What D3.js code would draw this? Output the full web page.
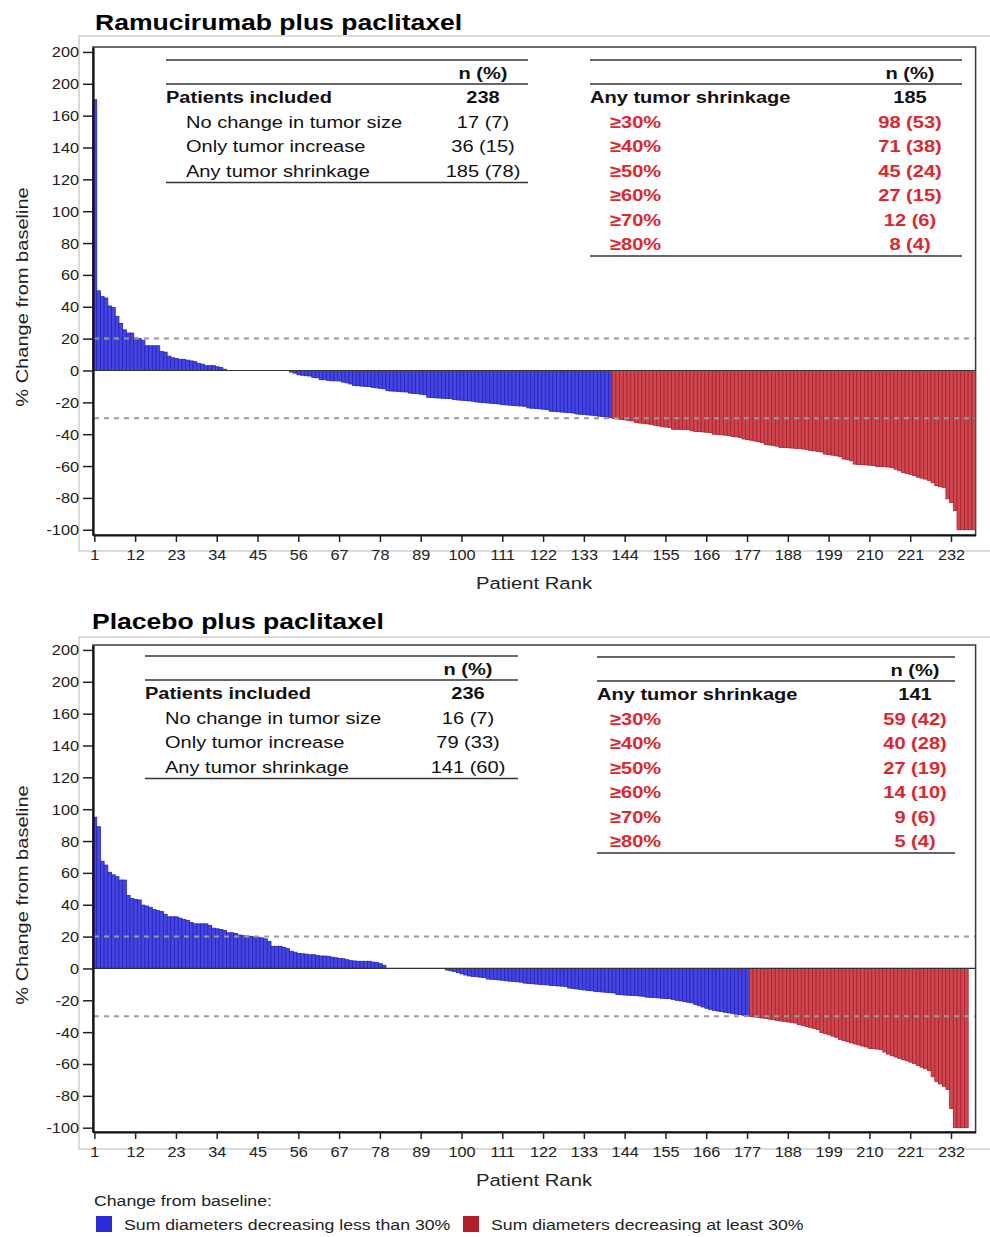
<!DOCTYPE html>
<html>
<head>
<meta charset="utf-8">
<script src="https://d3js.org/d3.v7.min.js"></script>
<style>
  body { margin: 0; background: #fff; }
  svg { font-family: "Liberation Sans", Arial, sans-serif; }
</style>
</head>
<body>
<script>
// % change from baseline, patients ranked
const ramChange = [
  170, 50, 46.5, 45.5, 40.5, 39.5, 34, 29.5, 25.5, 23.5,
  23.5, 20.5, 20, 19, 15.5, 15.5, 15.5, 15.5, 12, 11.5,
  9, 8, 7.5, 7, 7, 6.5, 6, 5.5, 4.5, 4,
  3, 3, 3, 2.3, 1.9, 0.8,
  0, 0, 0, 0, 0, 0, 0, 0, 0, 0, 0, 0, 0, 0, 0, 0, 0,
  -1, -1.7, -2.7, -3, -3.3, -3.5, -4.4, -4.6, -5.8, -5.8,
  -6.3, -6.5, -6.5, -6.6, -7.3, -7.8, -8.5, -9.4, -9.6, -9.8,
  -10, -10, -10.6, -10.9, -11.2, -11.5, -12.7, -12.9, -13, -13.2,
  -13.4, -13.5, -14.2, -14.4, -14.6, -14.9, -15.2, -16.9, -17, -17.2,
  -17.3, -17.5, -17.6, -17.7, -18.3, -18.5, -18.7, -18.9, -19.1, -19.3,
  -19.8, -20, -20.2, -20.4, -20.6, -20.8, -21, -21.5, -21.6, -21.8,
  -22, -22.2, -22.3, -22.5, -23.5, -23.7, -23.9, -24.1, -24.3, -24.6,
  -25.6, -25.7, -25.9, -26.1, -26.3, -26.5, -26.7, -27.3, -27.5, -27.7,
  -27.9, -28.1, -28.4, -28.7, -29, -29.2, -29.5,
  -30.1, -30.4, -30.7, -31, -31.4, -31.7, -32.7, -33, -33.2, -33.5,
  -33.8, -34.4, -34.8, -35.1, -35.5, -35.8, -36.9, -36.9, -37, -37,
  -37.1, -37.9, -38.2, -38.4, -38.6, -38.8, -39, -40, -40.2, -40.4,
  -40.6, -40.8, -41.5, -41.7, -42, -43, -43.4, -43.8, -44.3, -44.8,
  -45.2, -46.5, -46.8, -47.2, -47.5, -48.3, -48.4, -48.5, -48.7, -48.9,
  -49, -49.3, -49.6, -50.2, -50.5, -50.8, -51.2, -52.5, -52.8, -53.2,
  -53.6, -54, -55.6, -56, -56.7, -58.8, -59, -59.1, -59.3, -59.5,
  -59.7, -60.2, -60.3, -60.4, -60.6, -61, -62, -63, -64, -64.6,
  -65.2, -66, -67, -67.6, -68.2, -69, -70.5, -72.3, -73, -73.5,
  -80.6, -83, -88, -100, -100, -100, -100, -100
];

const plaChange = [
  95, 89, 67.3, 64.9, 60.4, 58.8, 57.6, 55.5, 55.5, 45.9,
  43.9, 43.3, 43, 39.8, 39.2, 38.4, 37, 36.3, 35.7, 34,
  32.4, 32.4, 32.4, 31.6, 30.8, 30.2, 28.8, 28, 28, 28,
  28, 27, 25.3, 24.9, 24.5, 23.9, 22.4, 22.4, 22, 21,
  20.6, 20.4, 20.2, 19.8, 19.6, 19.2, 18.6, 16.9, 13.9, 13.9,
  13.9, 13.3, 12.4, 10.8, 10.2, 9.4, 9.2, 9, 8.6, 8.6,
  8.2, 7.8, 7.8, 7.6, 7.1, 6.7, 6.3, 6.1, 5.5, 4.9,
  4.7, 4.5, 4.5, 4.5, 4.5, 4, 3.7, 3, 2,
  0, 0, 0, 0, 0, 0, 0, 0, 0, 0, 0, 0, 0, 0, 0, 0,
  -1, -1.5, -2, -2.7, -3.4, -4.1, -4.7, -5, -5.2, -5.5,
  -5.7, -6.6, -6.8, -7, -7.2, -7.4, -7.8, -8, -8.2, -8.4,
  -8.6, -9.2, -9.4, -9.6, -9.8, -10, -10.2, -10.3, -10.7, -10.8,
  -11, -11.1, -11.3, -12.3, -12.6, -12.9, -13.2, -13.5, -13.8, -14,
  -14.4, -14.6, -14.8, -15, -15.2, -15.4, -16.4, -16.5, -16.7, -16.8,
  -17, -17.1, -17.3, -17.5, -18, -18.2, -18.3, -18.5, -18.7, -18.8,
  -19, -19.5, -20, -20.4, -20.8, -21.2, -21.6, -22.6, -23.4, -24.2,
  -25, -25.7, -26.3, -26.7, -27.1, -27.5, -27.9, -28.3, -28.7, -29,
  -29.4, -29.8,
  -30.2, -30.5, -30.8, -31.1, -31.4, -31.8, -32.2, -32.6, -33, -33.3,
  -33.6, -34, -34.3, -35.3, -35.8, -36.4, -37, -37.6, -38.4, -40.2,
  -40.9, -41.7, -42.5, -43.2, -44.6, -45.3, -46, -46.7, -47.4, -48,
  -48.7, -49.3, -50.2, -50.4, -50.6, -51, -52.5, -53.8, -54.8, -55.6,
  -56.4, -57.2, -58, -58.8, -59.6, -61, -62, -63, -64, -68,
  -71, -72.5, -74, -76, -88, -100, -100, -100, -100
];

const yTicks = [-100, -80, -60, -40, -20, 0, 20, 40, 60, 80, 100, 120, 140, 160, 180, 200];
const yTickLabels = ['-100', '-80', '-60', '-40', '-20', '0', '20', '40', '60', '80', '100', '120', '140', '160', '200', '200'];
const xTicks = [1, 12, 23, 34, 45, 56, 67, 78, 89, 100, 111, 122, 133, 144, 155, 166, 177, 188, 199, 210, 221, 232];
const refLines = [20, -30];

const ramSummaryLabels = ['Patients included', 'No change in tumor size', 'Only tumor increase', 'Any tumor shrinkage'];
const ramSummaryValues = ['238', '17 (7)', '36 (15)', '185 (78)'];
const ramShrinkLabels = ['Any tumor shrinkage', '≥30%', '≥40%', '≥50%', '≥60%', '≥70%', '≥80%'];
const ramShrinkValues = ['185', '98 (53)', '71 (38)', '45 (24)', '27 (15)', '12 (6)', '8 (4)'];

const plaSummaryLabels = ['Patients included', 'No change in tumor size', 'Only tumor increase', 'Any tumor shrinkage'];
const plaSummaryValues = ['236', '16 (7)', '79 (33)', '141 (60)'];
const plaShrinkLabels = ['Any tumor shrinkage', '≥30%', '≥40%', '≥50%', '≥60%', '≥70%', '≥80%'];
const plaShrinkValues = ['141', '59 (42)', '40 (28)', '27 (19)', '14 (10)', '9 (6)', '5 (4)'];

const legendLabels = ['Sum diameters decreasing less than 30%', 'Sum diameters decreasing at least 30%'];

const BLUE = '#4646de', BLUE_EDGE = '#2222c4';
const RED = '#cc4850', RED_EDGE = '#ad1d2a';
const TXT_RED = '#e0262b';
const SX = 1.18; // the source figure is stretched sideways

const W = 990, H = 1237;
const svg = d3.select('body').append('svg').attr('width', W).attr('height', H);

function label(g, x, y, s, o = {}) {
  return g.append('text')
    .attr('transform', `translate(${x},${y}) scale(${SX},1)`)
    .attr('text-anchor', o.anchor || 'start')
    .attr('font-size', o.size || 17)
    .attr('font-weight', o.bold ? 'bold' : 'normal')
    .attr('fill', o.fill || '#111')
    .text(s);
}

const x = d3.scaleBand()
  .domain(d3.range(1, ramChange.length + 1))
  .range([93, 975.6])
  .padding(0);

function table(g, t) {
  const line = yy => g.append('line').attr('x1', t.x0).attr('x2', t.x1)
    .attr('y1', yy).attr('y2', yy).attr('stroke', '#333').attr('stroke-width', 1.5);
  line(t.top);
  label(g, t.col, t.top + 19, 'n (%)', { anchor: 'middle', bold: true });
  line(t.top + 24);
  t.labels.forEach((s, i) => {
    const cy = t.top + 43 + i * 24.5;
    const first = i === 0;
    const fill = (!first && t.red) ? TXT_RED : '#111';
    const bold = first || t.red;
    label(g, first ? t.x0 : t.x0 + t.indent, cy, s, { bold, fill });
    label(g, t.col, cy, t.values[i], { anchor: 'middle', bold, fill });
  });
  line(t.top + 24 + t.labels.length * 24.5 + 0.5);
}

function panel(p) {
  const g = svg.append('g');
  const y = d3.scaleLinear().domain(p.dom).range([p.bottom, p.top]);

  // light outer box
  g.append('path')
    .attr('d', `M1000,${p.box[0]}H79V${p.box[1]}H1000`)
    .attr('fill', 'none').attr('stroke', '#cfcfcf').attr('stroke-width', 1.5);

  label(g, p.titleX, p.titleY, p.title, { size: 22.5, bold: true, fill: '#000' });

  // plot frame
  g.append('rect').attr('x', 93).attr('y', p.top)
    .attr('width', 975.6 - 93).attr('height', p.bottom - p.top)
    .attr('fill', 'none').attr('stroke', '#3a3a3a').attr('stroke-width', 1.5);

  g.append('g').selectAll('rect').data(p.values).join('rect')
    .attr('x', (d, i) => x(i + 1))
    .attr('width', x.bandwidth())
    .attr('y', d => y(Math.max(0, d)))
    .attr('height', d => Math.abs(y(d) - y(0)))
    .attr('fill', d => d <= -30 ? RED : BLUE)
    .attr('stroke', d => d <= -30 ? RED_EDGE : BLUE_EDGE)
    .attr('stroke-width', 0.8);

  g.append('line').attr('x1', 93).attr('x2', 975.6)
    .attr('y1', y(0)).attr('y2', y(0))
    .attr('stroke', '#333').attr('stroke-width', 1.2);

  g.append('g').selectAll('line').data(refLines).join('line')
    .attr('x1', 94).attr('x2', 975)
    .attr('y1', d => y(d)).attr('y2', d => y(d))
    .attr('stroke', '#9a9a9a').attr('stroke-width', 2)
    .attr('stroke-dasharray', '5,5');

  // y axis
  const ya = g.append('g').attr('transform', 'translate(93,0)')
    .call(d3.axisLeft(y).tickValues(yTicks)
      .tickFormat((d, i) => yTickLabels[i]).tickSize(10).tickSizeOuter(0));
  ya.select('.domain').attr('stroke', '#111').attr('stroke-width', 2.2);
  ya.selectAll('.tick line').attr('stroke', '#222').attr('stroke-width', 1.5);
  ya.selectAll('.tick text')
    .attr('x', -14 / SX).attr('dy', '0.36em')
    .attr('transform', `scale(${SX},1)`)
    .attr('font-size', 13.8).attr('fill', '#222');

  // x axis
  const xa = g.append('g').attr('transform', `translate(0,${p.bottom})`)
    .call(d3.axisBottom(x).tickValues(xTicks).tickSize(7).tickSizeOuter(0));
  xa.select('.domain').attr('stroke', '#111').attr('stroke-width', 2.2);
  xa.selectAll('.tick line').attr('stroke', '#222').attr('stroke-width', 1.5);
  xa.selectAll('.tick text')
    .attr('y', 20).attr('dy', '0.36em')
    .attr('transform', `scale(${SX},1)`)
    .attr('font-size', 13.8).attr('fill', '#222');

  label(g, 534, p.bottom + 54, 'Patient Rank', { anchor: 'middle', size: 17.2, fill: '#222' });

  g.append('text')
    .attr('transform', `translate(28,${p.mid}) rotate(-90) scale(${SX},1)`)
    .attr('text-anchor', 'middle').attr('font-size', 17).attr('fill', '#222')
    .text('% Change from baseline');

  table(g, p.left);
  table(g, p.right);
}

panel({
  title: 'Ramucirumab plus paclitaxel', titleX: 95, titleY: 30,
  values: ramChange, top: 47, bottom: 535, dom: [-103.3, 203.1],
  box: [36, 551], mid: 297,
  left: { x0: 166, x1: 528, col: 483, top: 60, indent: 20, red: false,
          labels: ramSummaryLabels, values: ramSummaryValues },
  right: { x0: 590, x1: 962, col: 910, top: 60, indent: 20, red: true,
           labels: ramShrinkLabels, values: ramShrinkValues }
});

panel({
  title: 'Placebo plus paclitaxel', titleX: 92, titleY: 629,
  values: plaChange, top: 645, bottom: 1132, dom: [-102.7, 203.1],
  box: [637, 1149], mid: 895,
  left: { x0: 145, x1: 518, col: 468, top: 656, indent: 20, red: false,
          labels: plaSummaryLabels, values: plaSummaryValues },
  right: { x0: 597, x1: 955, col: 915, top: 657, indent: 13, red: true,
           labels: plaShrinkLabels, values: plaShrinkValues }
});

// legend
const lg = svg.append('g');
label(lg, 94, 1206, 'Change from baseline:', { size: 15, fill: '#222' });
const lx = [96, 463];
legendLabels.forEach((s, i) => {
  lg.append('rect').attr('x', lx[i]).attr('y', 1216).attr('width', 16).attr('height', 16)
    .attr('fill', i === 0 ? '#2a2ad8' : '#b51f2d');
  label(lg, lx[i] + 28, 1230, s, { size: 15, fill: '#222' });
});
</script>
</body>
</html>
